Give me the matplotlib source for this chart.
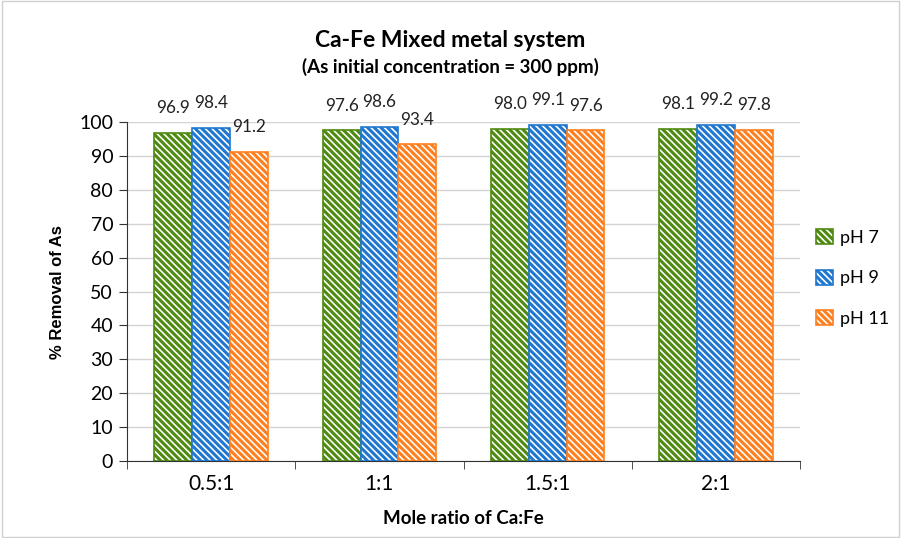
import matplotlib.pyplot as plt
import numpy as np
from matplotlib.patches import Rectangle

plt.rcParams['font.family'] = ['Lato', 'DejaVu Sans']
plt.rcParams['hatch.linewidth'] = 2.2

# data
ratios = ['0.5:1', '1:1', '1.5:1', '2:1']
ph7 = [96.9, 97.6, 98.0, 98.1]
ph9 = [98.4, 98.6, 99.1, 99.2]
ph11 = [91.2, 93.4, 97.6, 97.8]
series_names = ['pH 7', 'pH 9', 'pH 11']
colors = ['#4f8a10', '#1f77d0', '#ff7f1e']

fig = plt.figure(figsize=(9.01, 5.38), dpi=100)
fig.patches.append(Rectangle((0.002, 0.002), 0.996, 0.996, transform=fig.transFigure,
                             fill=False, edgecolor='#d0d0d0', linewidth=1))
ax = fig.add_axes([0.141, 0.143, 0.747, 0.630])

x = np.arange(len(ratios))
w = 0.225
for i, (vals, name, c) in enumerate(zip([ph7, ph9, ph11], series_names, colors)):
    pos = x + (i - 1) * w
    ax.bar(pos, vals, w, facecolor='white', edgecolor=c, hatch='\\\\\\\\\\',
           linewidth=1.2, label=name, zorder=3)
    for xp, v in zip(pos, vals):
        ax.text(xp, v + 7.3, f'{v:.1f}', ha='center', va='center', fontsize=12.3,
                color='#222222', clip_on=False)

ax.set_ylim(0, 100)
ax.set_xlim(-0.5, 3.5)
ax.set_yticks(range(0, 101, 10))
ax.tick_params(axis='y', labelsize=14, length=6, color='#333333', pad=4)
ax.set_xticks(x)
ax.set_xticklabels(ratios, fontsize=15)
ax.tick_params(axis='x', length=0, pad=9)
ax.set_xticks(np.arange(-0.5, 4, 1), minor=True)
ax.tick_params(axis='x', which='minor', length=6, color='#333333')
ax.grid(axis='y', color='#d4d4d4', linewidth=1, zorder=0)
ax.set_axisbelow(True)
for s in ['top', 'right']:
    ax.spines[s].set_visible(False)
ax.spines['left'].set_color('#333333')
ax.spines['bottom'].set_color('#333333')

ax.set_ylabel('% Removal of As', fontsize=12, fontweight='bold', labelpad=10,
              family=['Liberation Sans', 'DejaVu Sans'])
ax.set_xlabel('Mole ratio of Ca:Fe', fontsize=13.5, fontweight='bold', labelpad=12)

fig.text(0.5, 0.912, 'Ca-Fe Mixed metal system', ha='center', fontsize=16.5, fontweight='bold')
fig.text(0.5, 0.864, '(As initial concentration = 300 ppm)', ha='center', fontsize=13.5, fontweight='bold')

leg = ax.legend(loc='center left', bbox_to_anchor=(1.0, 0.54), frameon=False, fontsize=13,
                handlelength=0.9, handleheight=0.9, handletextpad=0.4, labelspacing=1.3)

fig.savefig('out.png', dpi=100)
